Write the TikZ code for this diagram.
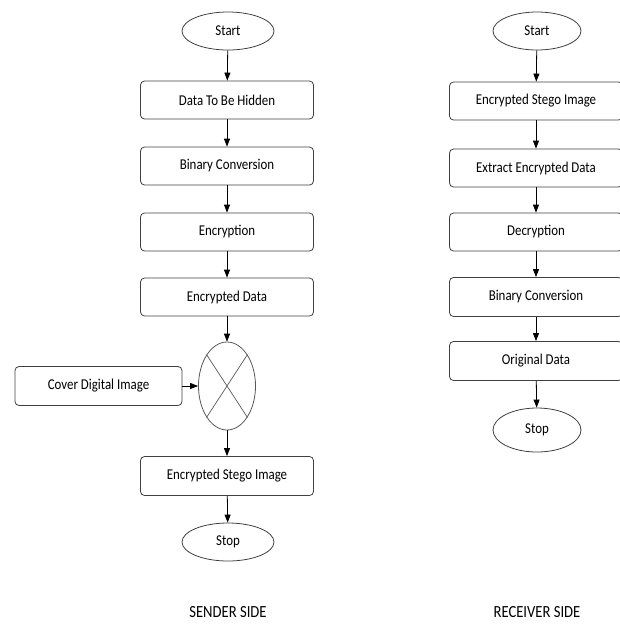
\documentclass[tikz,border=0pt]{standalone}
\usepackage{fontspec}
\setmainfont{Carlito}[FakeStretch=0.86]
\usetikzlibrary{shapes.geometric,arrows.meta}
\begin{document}
\begin{tikzpicture}[x=1pt,y=-1pt,
  every node/.style={font=\fontsize{15}{17}\selectfont},
  procbox/.style={draw=black!75,rounded corners=4pt,minimum width=173pt,minimum height=38pt,inner sep=0pt,line width=0.8pt},
  term/.style={draw=black!75,ellipse,minimum width=92pt,minimum height=38pt,inner sep=0pt,line width=0.8pt},
  arr/.style={draw=black,line width=0.8pt,-{Triangle[length=8pt,width=6pt]}},
  side/.style={font=\fontsize{17}{19}\selectfont}]
\useasboundingbox (0,0) rectangle (620,625);
% sender
\node[term] (s1) at (228,31) {Start};
\node[procbox] (s2) at (227,100) {Data To Be Hidden};
\node[procbox] (s3) at (227,166) {Binary Conversion};
\node[procbox] (s4) at (227,232) {Encryption};
\node[procbox] (s5) at (227,297) {Encrypted Data};
\node[draw=black!65,ellipse,minimum width=57pt,minimum height=88pt,inner sep=0pt,line width=0.8pt] (mix) at (227,386) {};
\draw[black!65,line width=0.7pt] (mix.north west) -- (mix.south east) (mix.north east) -- (mix.south west);
\node[procbox,minimum width=167pt,minimum height=39pt] (cov) at (98.5,386) {Cover Digital Image};
\node[procbox,minimum height=39pt] (s6) at (227,476) {Encrypted Stego Image};
\node[term] (s7) at (228,542) {Stop};
\draw[arr] (s1) -- (s2);
\draw[arr] (s2) -- (s3);
\draw[arr] (s3) -- (s4);
\draw[arr] (s4) -- (s5);
\draw[arr] (s5) -- (mix);
\draw[arr] (cov) -- (mix);
\draw[arr] (mix) -- (s6);
\draw[arr] (s6) -- (s7);
\node[side] (ls) at (228,612) {SENDER SIDE};
% receiver
\node[term,minimum width=88pt] (r1) at (537,31) {Start};
\node[procbox] (r2) at (536,101) {Encrypted Stego Image};
\node[procbox] (r3) at (536,168) {Extract Encrypted Data};
\node[procbox] (r4) at (536,232) {Decryption};
\node[procbox,minimum height=39pt] (r5) at (536,297) {Binary Conversion};
\node[procbox,minimum height=39pt] (r6) at (536,361) {Original Data};
\node[term,minimum width=88pt,minimum height=44pt] (r7) at (537,430) {Stop};
\draw[arr] (r1) -- (r2);
\draw[arr] (r2) -- (r3);
\draw[arr] (r3) -- (r4);
\draw[arr] (r4) -- (r5);
\draw[arr] (r5) -- (r6);
\draw[arr] (r6) -- (r7);
\node[side] (lr) at (537,612) {RECEIVER SIDE};
\end{tikzpicture}
\end{document}
